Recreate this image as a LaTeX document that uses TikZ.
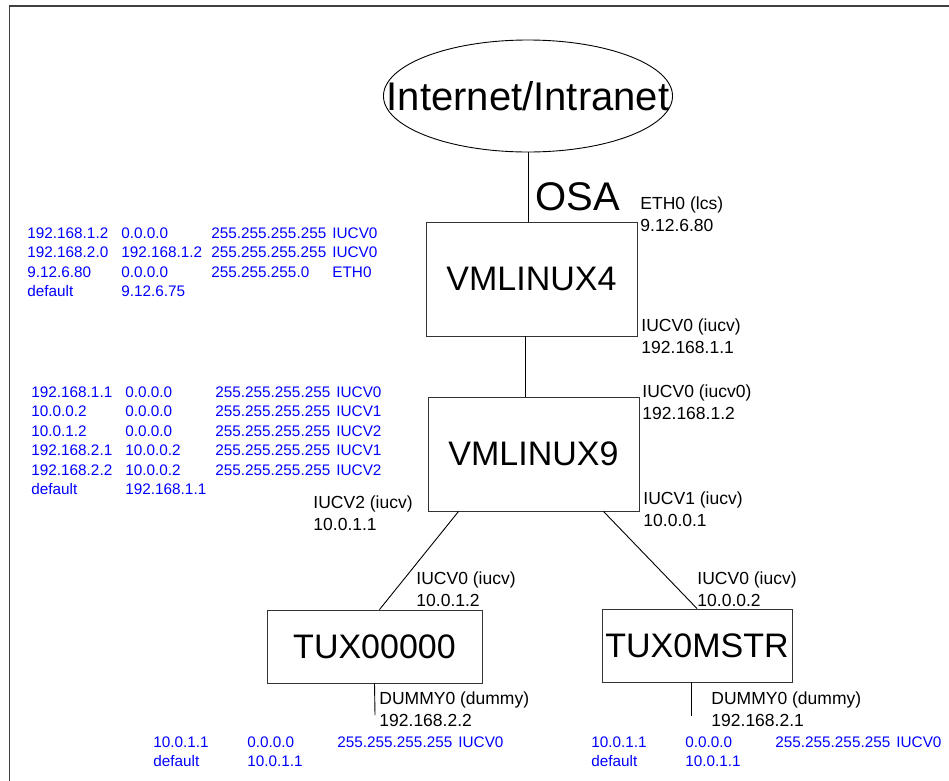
\documentclass[tikz,border=0pt]{standalone}
\usepackage{fontspec}
\setmainfont{Liberation Sans}
\usetikzlibrary{shapes.geometric}
\newcommand{\routes}[1]{\begin{tabular}[t]{@{}p{94pt}@{}p{90pt}@{}p{121pt}@{}l@{}}#1\end{tabular}}
\begin{document}
\begin{tikzpicture}[x=1pt,y=-1pt,line width=0.9pt,
    host/.style={draw=black!80,rectangle,inner sep=0pt,font=\fontsize{34}{40}\selectfont},
    lbl/.style={anchor=north west,inner sep=0pt,align=left,font=\fontsize{17.5}{22}\selectfont},
    rtable/.style={anchor=base west,inner sep=0pt,text=blue,font=\fontsize{15.3}{19.4}\selectfont}]
    \useasboundingbox (0,0) rectangle (949,780);
    % frame
    \draw[black!75,line width=1.5pt] (9.5,790) -- (9.5,6) -- (960,6);
    % cloud and hosts
    \node[ellipse,draw,inner xsep=-39pt,inner ysep=0pt,minimum width=288,minimum height=112,font=\fontsize{40}{46}\selectfont] (inet) at (528,96) {Internet/Intranet};
    \node[host,minimum width=211,minimum height=114] (vm4) at (531.5,279) {VMLINUX4};
    \node[host,minimum width=211,minimum height=114] (vm9) at (533.5,454) {VMLINUX9};
    \node[host,minimum width=215,minimum height=73] (tux0) at (374.5,646.5) {TUX00000};
    \node[host,minimum width=190,minimum height=73] (tuxm) at (697,645.5) {TUX0MSTR};
    \node[anchor=west,inner sep=0pt,font=\fontsize{40}{46}\selectfont] (osa) at (535,197) {OSA};
    % links
    \draw (inet.south) -- (inet.south |- vm4.north);
    \draw ([xshift=-6]vm4.south) -- ([xshift=-6]vm4.south |- vm9.north);
    \draw ([xshift=-75]vm9.south) -- ([xshift=5]tux0.north);
    \draw ([xshift=70]vm9.south) -- (tuxm.north);
    \coordinate (d0) at (375,715);
    \coordinate (dm) at (691,716);
    \draw (tux0.south) -- (d0);
    \draw (tuxm.south -| dm) -- (dm);
    % interface labels
    \node[lbl] (eth) at (640,196.7) {ETH0 (lcs)\\9.12.6.80};
    \node[lbl] (if41) at (641,318.7) {IUCV0 (iucv)\\192.168.1.1};
    \node[lbl] (if90) at (642,384.7) {IUCV0 (iucv0)\\192.168.1.2};
    \node[lbl] (if91) at (643,491.7) {IUCV1 (iucv)\\10.0.0.1};
    \node[lbl] (if92) at (313,495.4) {IUCV2 (iucv)\\10.0.1.1};
    \node[lbl] (ift0) at (416,571.7) {IUCV0 (iucv)\\10.0.1.2};
    \node[lbl] (iftm) at (697,571.7) {IUCV0 (iucv)\\10.0.0.2};
    \node[lbl] (dum0) at (379,691.7) {DUMMY0 (dummy)\\192.168.2.2};
    \node[lbl] (dumm) at (711,691.7) {DUMMY0 (dummy)\\192.168.2.1};
    % routing tables
    \node[rtable] (rt4) at (27,238.5) {\routes{
        192.168.1.2 & 0.0.0.0 & 255.255.255.255 & IUCV0\\
        192.168.2.0 & 192.168.1.2 & 255.255.255.255 & IUCV0\\
        9.12.6.80 & 0.0.0.0 & 255.255.255.0 & ETH0\\
        default & 9.12.6.75 & & \\}};
    \node[rtable] (rt9) at (31,397.5) {\routes{
        192.168.1.1 & 0.0.0.0 & 255.255.255.255 & IUCV0\\
        10.0.0.2 & 0.0.0.0 & 255.255.255.255 & IUCV1\\
        10.0.1.2 & 0.0.0.0 & 255.255.255.255 & IUCV2\\
        192.168.2.1 & 10.0.0.2 & 255.255.255.255 & IUCV1\\
        192.168.2.2 & 10.0.0.2 & 255.255.255.255 & IUCV2\\
        default & 192.168.1.1 & & \\}};
    \node[rtable] (rtt0) at (153,747.5) {\routes{
        10.0.1.1 & 0.0.0.0 & 255.255.255.255 & IUCV0\\
        default & 10.0.1.1 & & \\}};
    \node[rtable] (rttm) at (591,747.5) {\routes{
        10.0.1.1 & 0.0.0.0 & 255.255.255.255 & IUCV0\\
        default & 10.0.1.1 & & \\}};
\end{tikzpicture}
\end{document}
